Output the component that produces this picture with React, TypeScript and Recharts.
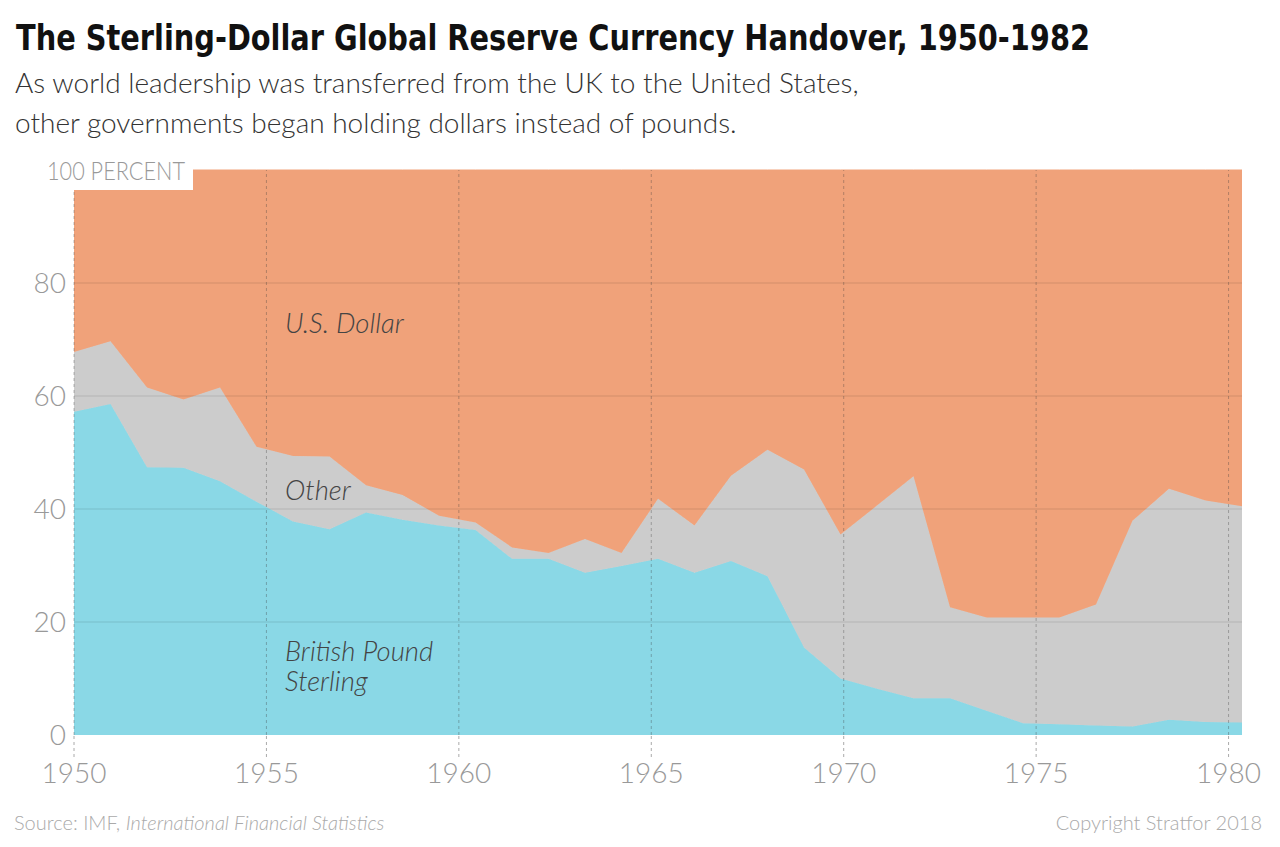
import React from "react";
import { AreaChart, Area, XAxis, YAxis, CartesianGrid, ReferenceLine } from "recharts";

// one point per year, 1950-1982
const years = [
  1950, 1951, 1952, 1953, 1954, 1955, 1956, 1957, 1958, 1959, 1960,
  1961, 1962, 1963, 1964, 1965, 1966, 1967, 1968, 1969, 1970, 1971,
  1972, 1973, 1974, 1975, 1976, 1977, 1978, 1979, 1980, 1981, 1982,
];
const poundShare = [
  57.2, 58.6, 47.4, 47.3, 44.9, 41.3, 37.8, 36.4, 39.4, 38.1, 37.1,
  36.3, 31.2, 31.2, 28.7, 29.9, 31.2, 28.7, 30.8, 28.1, 15.5, 10.0,
  8.2, 6.5, 6.5, 4.3, 2.1, 1.9, 1.7, 1.5, 2.7, 2.3, 2.2,
];
const otherShare = [
  10.6, 11.1, 14.1, 12.1, 16.6, 9.7, 11.6, 12.9, 4.8, 4.4, 1.7,
  1.3, 2.0, 1.0, 6.0, 2.3, 10.6, 8.4, 15.1, 22.4, 31.5, 25.5,
  32.4, 39.3, 16.1, 16.5, 18.7, 18.9, 21.4, 36.4, 40.9, 39.2, 38.3,
];
const dollarShare = [
  32.2, 30.3, 38.5, 40.6, 38.5, 49.0, 50.6, 50.7, 55.8, 57.5, 61.2,
  62.4, 66.8, 67.8, 65.3, 67.8, 58.2, 62.9, 54.1, 49.5, 53.0, 64.5,
  59.4, 54.2, 77.4, 79.2, 79.2, 79.2, 76.9, 62.1, 56.4, 58.5, 59.5,
];
const tickYears = [1950, 1955, 1960, 1965, 1970, 1975, 1980];
const yTicks = [0, 20, 40, 60, 80, 100];

// the original's year labels sit slightly wider apart than the data points
const LABEL_STRETCH = 1.0544;
const tickPositions = tickYears.map((y) => 1950 + (y - 1950) * LABEL_STRETCH);

const data = years.map((year, i) => ({
  year,
  pound: poundShare[i],
  other: otherShare[i],
  dollar: dollarShare[i],
}));

const FONT = "Lato, 'Open Sans', sans-serif";

function YTick(props: any) {
  const { x, y, payload } = props;
  if (payload.value === 100) {
    return (
      <g>
        <rect x={x - 30} y={y - 21} width={157} height={41} fill="#fff" />
        <text x={x - 19} y={y + 10} fontSize={26} fontWeight={300} fill="#999" fontFamily={FONT} textLength={138} lengthAdjust="spacingAndGlyphs">
          100 PERCENT
        </text>
      </g>
    );
  }
  return (
    <text x={x} y={y + 10} textAnchor="end" fontSize={28} fontWeight={300} fill="#999" fontFamily={FONT}>
      {payload.value}
    </text>
  );
}

export default function App() {
  return (
    <div style={{ position: "absolute", left: 0, top: 0, width: 1280, height: 847, background: "#fff" }}>
      <AreaChart
        width={1280}
        height={847}
        data={data}
        margin={{ top: 170, right: 38, bottom: 52, left: 0 }}
      >
        <XAxis
          dataKey="year"
          type="number"
          domain={[1950, 1982]}
          ticks={tickPositions}
          interval={0}
          tickFormatter={(v: number) => String(Math.round(1950 + (v - 1950) / LABEL_STRETCH))}
          axisLine={false}
          tickLine={{ stroke: "#aaa", strokeDasharray: "3 3" }}
          tickSize={22}
          tickMargin={6}
          height={60}
          tick={{ fontSize: 28, fontWeight: 300, fill: "#999", fontFamily: FONT }}
        />
        <YAxis
          type="number"
          domain={[0, 100]}
          ticks={yTicks}
          width={74}
          axisLine={false}
          tickLine={false}
          tick={<YTick />}
        />
        <Area
          type="linear"
          dataKey="pound"
          stackId="a"
          stroke="#8AD8E6"
          fill="#8AD8E6"
          fillOpacity={1}
          isAnimationActive={false}
        />
        <Area
          type="linear"
          dataKey="other"
          stackId="a"
          stroke="#CCCCCC"
          fill="#CCCCCC"
          fillOpacity={1}
          isAnimationActive={false}
        />
        <Area
          type="linear"
          dataKey="dollar"
          stackId="a"
          stroke="#F0A27A"
          fill="#F0A27A"
          fillOpacity={1}
          isAnimationActive={false}
        />
        <CartesianGrid
          vertical={false}
          horizontalValues={[20, 40, 60, 80]}
          stroke="rgba(0,0,0,0.06)"
          strokeWidth={2}
          zIndex={150}
        />
        {tickPositions.map((v) => (
          <ReferenceLine
            key={v}
            x={v}
            stroke="rgba(60,60,60,0.35)"
            strokeDasharray="3 3"
          />
        ))}
      </AreaChart>
      <svg
        width={1280}
        height={847}
        style={{ position: "absolute", left: 0, top: 0, pointerEvents: "none" }}
        fontFamily={FONT}
      >
        <text
          x={16}
          y={50}
          fontSize={36}
          fontWeight={700}
          fill="#111"
          fontFamily="'Liberation Sans Narrow', 'DejaVu Sans Condensed', sans-serif"
          textLength={1074}
          lengthAdjust="spacingAndGlyphs"
        >
          The Sterling-Dollar Global Reserve Currency Handover, 1950-1982
        </text>
        <text x={15} y={93} fontSize={28} fontWeight={300} fill="#333">
          As world leadership was transferred from the UK to the United States,
        </text>
        <text x={15} y={133} fontSize={28} fontWeight={300} fill="#333">
          other governments began holding dollars instead of pounds.
        </text>
        <g fontSize={27.5} fontWeight={300} fontStyle="italic" fill="#444">
          <text x={285} y={333}>U.S. Dollar</text>
          <text x={285} y={500}>Other</text>
          <text x={285} y={661}>British Pound</text>
          <text x={285} y={691}>Sterling</text>
        </g>
        <text x={14} y={830} fontSize={20} fontWeight={300} fill="#aaa">
          Source: IMF, <tspan fontStyle="italic">International Financial Statistics</tspan>
        </text>
        <text x={1262} y={830} fontSize={20} fontWeight={300} fill="#aaa" textAnchor="end">
          Copyright Stratfor 2018
        </text>
      </svg>
    </div>
  );
}
